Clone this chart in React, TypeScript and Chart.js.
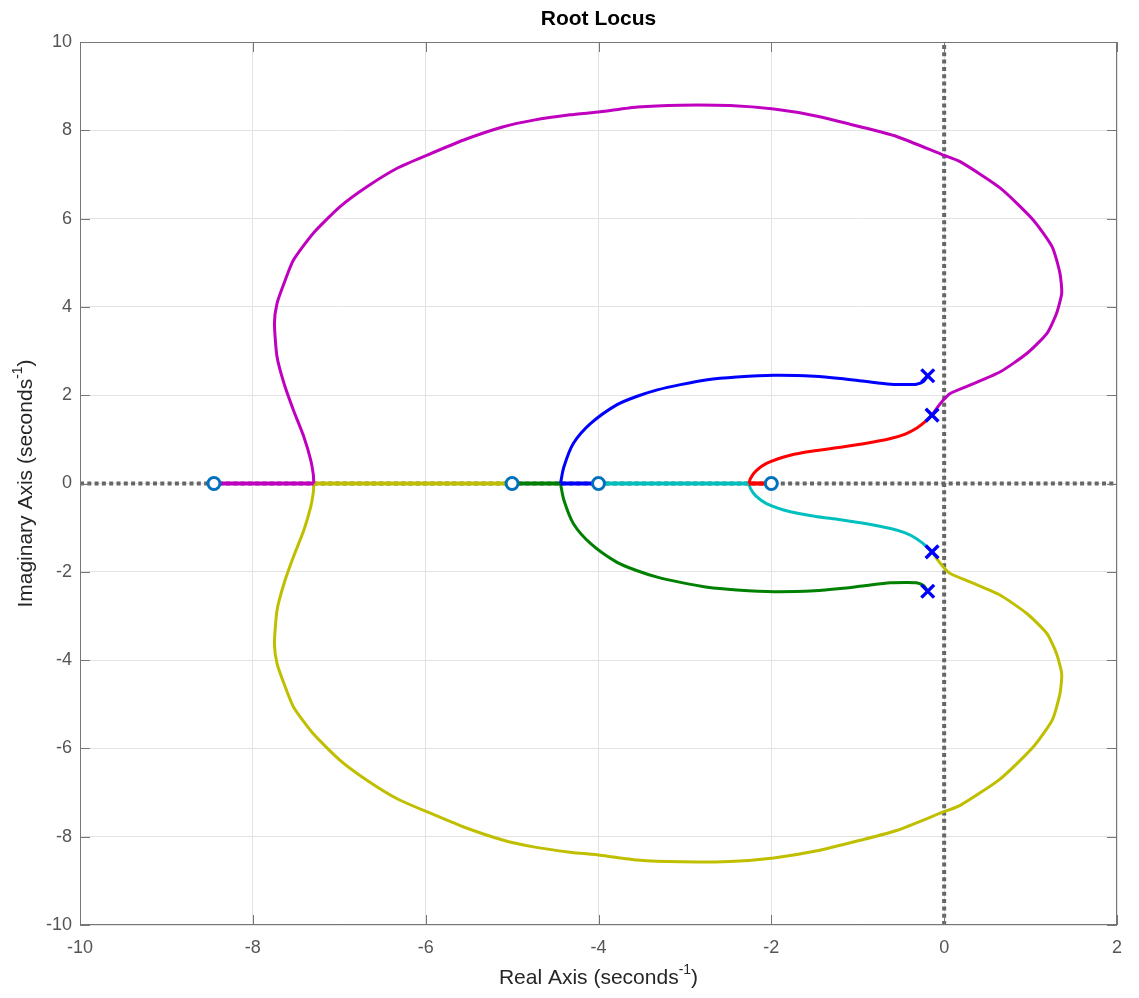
import React, { useEffect, useRef } from "react";
import { Chart, registerables } from "chart.js";

Chart.register(...registerables);

// ---- Data ----
const X_TICKS = [-10, -8, -6, -4, -2, 0, 2];
const Y_TICKS = [-10, -8, -6, -4, -2, 0, 2, 4, 6, 8, 10];

const ZERO_RE = [-8.45, -5, -4, -2];
const ZERO_IM = [0, 0, 0, 0];
const POLE_RE = [-0.19, -0.14, -0.14, -0.19];
const POLE_IM = [2.44, 1.55, -1.55, -2.44];

// magenta branch: pole (-0.14, 1.55) -> break-in at -7.3
const MAGENTA_RE = [-0.14, -0.08, -0.01, 0.07, 0.3, 0.65, 0.96, 1.19, 1.3, 1.36, 1.34, 1.25, 1.03, 0.65, 0.185, -0.01, -0.55, -0.97, -1.47, -1.97, -2.48, -3.05, -3.55, -3.98, -4.33, -4.75, -5.1, -5.56, -5.98, -6.33, -6.68, -6.99, -7.3, -7.53, -7.64, -7.72, -7.75, -7.72, -7.64, -7.53, -7.41, -7.33, -7.3, -7.295];
const MAGENTA_IM = [1.55, 1.72, 1.89, 2.04, 2.23, 2.53, 2.95, 3.4, 3.85, 4.31, 4.76, 5.36, 5.97, 6.69, 7.29, 7.44, 7.86, 8.08, 8.32, 8.48, 8.56, 8.57, 8.53, 8.42, 8.35, 8.23, 8.08, 7.78, 7.44, 7.14, 6.72, 6.27, 5.67, 5.06, 4.53, 4.08, 3.63, 2.87, 2.27, 1.66, 1.06, 0.53, 0.2, 0];
const MAGENTA_AXIS_RE = [-7.295, -8.45];
const MAGENTA_AXIS_IM = [0, 0];

// yellow branch: pole (-0.14, -1.55) -> break-in at -7.3
const YELLOW_RE = [-0.14, -0.08, -0.01, 0.07, 0.3, 0.65, 0.96, 1.19, 1.3, 1.36, 1.34, 1.25, 1.03, 0.65, 0.185, -0.01, -0.55, -0.97, -1.47, -1.97, -2.48, -3.05, -3.55, -3.98, -4.33, -4.75, -5.1, -5.56, -5.98, -6.33, -6.68, -6.99, -7.3, -7.53, -7.64, -7.72, -7.75, -7.72, -7.64, -7.53, -7.41, -7.33, -7.3, -7.295];
const YELLOW_IM = [-1.55, -1.72, -1.89, -2.04, -2.23, -2.53, -2.95, -3.4, -3.85, -4.31, -4.76, -5.36, -5.97, -6.69, -7.29, -7.44, -7.86, -8.08, -8.32, -8.48, -8.56, -8.57, -8.53, -8.42, -8.35, -8.23, -8.08, -7.78, -7.44, -7.14, -6.72, -6.27, -5.67, -5.06, -4.53, -4.08, -3.63, -2.87, -2.27, -1.66, -1.06, -0.53, -0.2, 0];
const YELLOW_AXIS_RE = [-7.295, -5];
const YELLOW_AXIS_IM = [0, 0];

// blue branch: pole (-0.19, 2.44) -> break-in at -4.44
const BLUE_RE = [-0.19, -0.24, -0.32, -0.45, -0.62, -0.9, -1.2, -1.5, -1.97, -2.4, -2.74, -3.05, -3.32, -3.56, -3.79, -4.09, -4.29, -4.4, -4.44];
const BLUE_IM = [2.44, 2.31, 2.25, 2.24, 2.25, 2.31, 2.38, 2.43, 2.45, 2.41, 2.35, 2.24, 2.12, 1.97, 1.78, 1.36, 0.91, 0.38, 0];
const BLUE_AXIS_RE = [-4.44, -4];
const BLUE_AXIS_IM = [0, 0];

// green branch: pole (-0.19, -2.44) -> break-in at -4.44
const GREEN_RE = [-0.19, -0.24, -0.32, -0.45, -0.62, -0.9, -1.2, -1.5, -1.97, -2.4, -2.74, -3.05, -3.32, -3.56, -3.79, -4.09, -4.29, -4.4, -4.44];
const GREEN_IM = [-2.44, -2.31, -2.25, -2.24, -2.25, -2.31, -2.38, -2.43, -2.45, -2.41, -2.35, -2.24, -2.12, -1.97, -1.78, -1.36, -0.91, -0.38, 0];
const GREEN_AXIS_RE = [-4.44, -5];
const GREEN_AXIS_IM = [0, 0];

// red branch: pole (-0.14, 1.55) -> break-away at -2.26
const RED_RE = [-0.14, -0.22, -0.32, -0.45, -0.62, -0.9, -1.2, -1.5, -1.78, -2.05, -2.18, -2.24, -2.26];
const RED_IM = [1.55, 1.4, 1.25, 1.12, 1.02, 0.91, 0.82, 0.74, 0.64, 0.46, 0.28, 0.12, 0];
const RED_AXIS_RE = [-2.26, -2];
const RED_AXIS_IM = [0, 0];

// cyan branch: pole (-0.14, -1.55) -> break-away at -2.26
const CYAN_RE = [-0.14, -0.22, -0.32, -0.45, -0.62, -0.9, -1.2, -1.5, -1.78, -2.05, -2.18, -2.24, -2.26];
const CYAN_IM = [-1.55, -1.4, -1.25, -1.12, -1.02, -0.91, -0.82, -0.74, -0.64, -0.46, -0.28, -0.12, 0];
const CYAN_AXIS_RE = [-2.26, -4];
const CYAN_AXIS_IM = [0, 0];

const HAXIS_RE = [-10, 2];
const HAXIS_IM = [0, 0];
const VAXIS_RE = [0, 0];
const VAXIS_IM = [-10, 10];

// ---- Styles ----
const C_MAG = "#bf00bf";
const C_YEL = "#bfbf00";
const C_CYAN = "#00bfbf";
const C_GREEN = "#008000";
const C_BLUE = "#0000ff";
const C_RED = "#ff0000";
const C_ZERO = "#0072bd";
const FONT = "'Liberation Sans', Arial, Helvetica, sans-serif";

const W = 1123;
const H = 982;

const pts = (xs: number[], ys: number[]) => xs.map((x, i) => ({ x, y: ys[i] }));

function curve(label: string, xs: number[], ys: number[], color: string, tension = 0.3, width = 3) {
  return {
    label,
    data: pts(xs, ys),
    showLine: true,
    borderColor: color,
    backgroundColor: color,
    borderWidth: width,
    pointRadius: 0,
    tension,
    order: 2,
  };
}

function drawSupText(
  ctx: CanvasRenderingContext2D,
  parts: { t: string; sup?: boolean }[],
  cx: number,
  cy: number,
  size: number
) {
  const supSize = Math.round(size * 0.68);
  let total = 0;
  for (const p of parts) {
    ctx.font = `${p.sup ? supSize : size}px ${FONT}`;
    total += ctx.measureText(p.t).width;
  }
  let x = cx - total / 2;
  ctx.textAlign = "left";
  ctx.textBaseline = "middle";
  for (const p of parts) {
    ctx.font = `${p.sup ? supSize : size}px ${FONT}`;
    ctx.fillText(p.t, x, p.sup ? cy - size * 0.38 : cy);
    x += ctx.measureText(p.t).width;
  }
}

const decorPlugin = {
  id: "decor",
  afterDraw(chart: any) {
    const { ctx, chartArea: a, scales } = chart;
    const xs = scales.x;
    const ys = scales.y;
    ctx.save();
    // box
    ctx.strokeStyle = "#767676";
    ctx.lineWidth = 1;
    ctx.strokeRect(Math.round(a.left) + 0.5, Math.round(a.top) + 0.5, Math.round(a.right - a.left) - 1, Math.round(a.bottom - a.top) - 1);
    // inside ticks
    const tl = 10;
    ctx.beginPath();
    for (const v of X_TICKS) {
      const px = Math.round(xs.getPixelForValue(v)) + 0.5;
      ctx.moveTo(px, a.bottom);
      ctx.lineTo(px, a.bottom - tl);
      ctx.moveTo(px, a.top);
      ctx.lineTo(px, a.top + tl);
    }
    for (const v of Y_TICKS) {
      const py = Math.round(ys.getPixelForValue(v)) + 0.5;
      ctx.moveTo(a.left, py);
      ctx.lineTo(a.left + tl, py);
      ctx.moveTo(a.right, py);
      ctx.lineTo(a.right - tl, py);
    }
    ctx.stroke();

    // title
    ctx.fillStyle = "#000000";
    ctx.font = `bold 21px ${FONT}`;
    ctx.textAlign = "center";
    ctx.textBaseline = "middle";
    ctx.fillText("Root Locus", (a.left + a.right) / 2, 11);

    // axis titles
    ctx.fillStyle = "#262626";
    drawSupText(
      ctx,
      [{ t: "Real Axis (seconds" }, { t: "-1", sup: true }, { t: ")" }],
      (a.left + a.right) / 2,
      970,
      21
    );
    ctx.save();
    ctx.translate(18, (a.top + a.bottom) / 2);
    ctx.rotate(-Math.PI / 2);
    drawSupText(
      ctx,
      [{ t: "Imaginary Axis (seconds" }, { t: "-1", sup: true }, { t: ")" }],
      0,
      0,
      21
    );
    ctx.restore();
    ctx.restore();
  },
};

export default function App() {
  const ref = useRef<HTMLCanvasElement | null>(null);

  useEffect(() => {
    if (!ref.current) return;
    const dotted = (label: string, xs: number[], ys: number[]) => ({
      label,
      data: pts(xs, ys),
      showLine: true,
      borderColor: "#666666",
      borderWidth: 4,
      borderDash: [4, 3.3],
      borderCapStyle: "butt",
      pointRadius: 0,
      order: 5,
    });
    const datasets: any[] = [
      {
        label: "Zeros",
        data: pts(ZERO_RE, ZERO_IM),
        pointStyle: "circle",
        pointRadius: 6,
        borderWidth: 3,
        borderColor: C_ZERO,
        backgroundColor: "#ffffff",
        showLine: false,
        order: 0,
      },
      {
        label: "Poles",
        data: pts(POLE_RE, POLE_IM),
        pointStyle: "crossRot",
        pointRadius: 9,
        borderWidth: 3.4,
        borderColor: C_BLUE,
        backgroundColor: C_BLUE,
        showLine: false,
        order: 0,
      },
      curve("magenta", MAGENTA_RE, MAGENTA_IM, C_MAG, 0.2),
      curve("magenta axis", MAGENTA_AXIS_RE, MAGENTA_AXIS_IM, C_MAG, 0, 4.2),
      curve("yellow", YELLOW_RE, YELLOW_IM, C_YEL, 0.2),
      curve("yellow axis", YELLOW_AXIS_RE, YELLOW_AXIS_IM, C_YEL, 0, 4.2),
      curve("blue", BLUE_RE, BLUE_IM, C_BLUE, 0.3),
      curve("blue axis", BLUE_AXIS_RE, BLUE_AXIS_IM, C_BLUE, 0, 4.2),
      curve("green", GREEN_RE, GREEN_IM, C_GREEN, 0.3),
      curve("green axis", GREEN_AXIS_RE, GREEN_AXIS_IM, C_GREEN, 0, 4.2),
      curve("red", RED_RE, RED_IM, C_RED, 0.3),
      curve("red axis", RED_AXIS_RE, RED_AXIS_IM, C_RED, 0, 4.2),
      curve("cyan", CYAN_RE, CYAN_IM, C_CYAN, 0.3),
      curve("cyan axis", CYAN_AXIS_RE, CYAN_AXIS_IM, C_CYAN, 0, 4.2),
      dotted("real axis", HAXIS_RE, HAXIS_IM),
      dotted("imag axis", VAXIS_RE, VAXIS_IM),
    ];

    const chart = new Chart(ref.current, {
      type: "scatter",
      data: { datasets },
      options: {
        responsive: false,
        animation: false,
        devicePixelRatio: 1,
        layout: { padding: { top: 34, right: 14, left: 0, bottom: 0 } },
        plugins: {
          legend: { display: false },
          tooltip: { enabled: false },
          title: { display: false },
        },
        scales: {
          x: {
            type: "linear",
            min: -10,
            max: 2,
            afterBuildTicks: (s: any) => {
              s.ticks = X_TICKS.map((v) => ({ value: v }));
            },
            afterFit: (s: any) => {
              s.height = 65;
              s.paddingLeft = 0;
              s.paddingRight = 0;
            },
            grid: { color: "#e3e3e3", lineWidth: 1, drawTicks: false },
            border: { display: false },
            ticks: {
              padding: 12,
              color: "#555555",
              font: { size: 18, family: FONT },
              callback: (v: any) => String(v),
            },
          },
          y: {
            type: "linear",
            min: -10,
            max: 10,
            afterBuildTicks: (s: any) => {
              s.ticks = Y_TICKS.map((v) => ({ value: v }));
            },
            afterFit: (s: any) => {
              s.width = 72;
              s.paddingTop = 0;
              s.paddingBottom = 0;
            },
            grid: { color: "#e3e3e3", lineWidth: 1, drawTicks: false },
            border: { display: false },
            ticks: {
              padding: 8,
              color: "#555555",
              font: { size: 18, family: FONT },
              callback: (v: any) => String(v),
            },
          },
        },
      },
      plugins: [decorPlugin],
    });
    return () => chart.destroy();
  }, []);

  return (
    <div style={{ width: W, height: H }}>
      <canvas ref={ref} width={W} height={H} style={{ display: "block", width: W, height: H }} />
    </div>
  );
}
